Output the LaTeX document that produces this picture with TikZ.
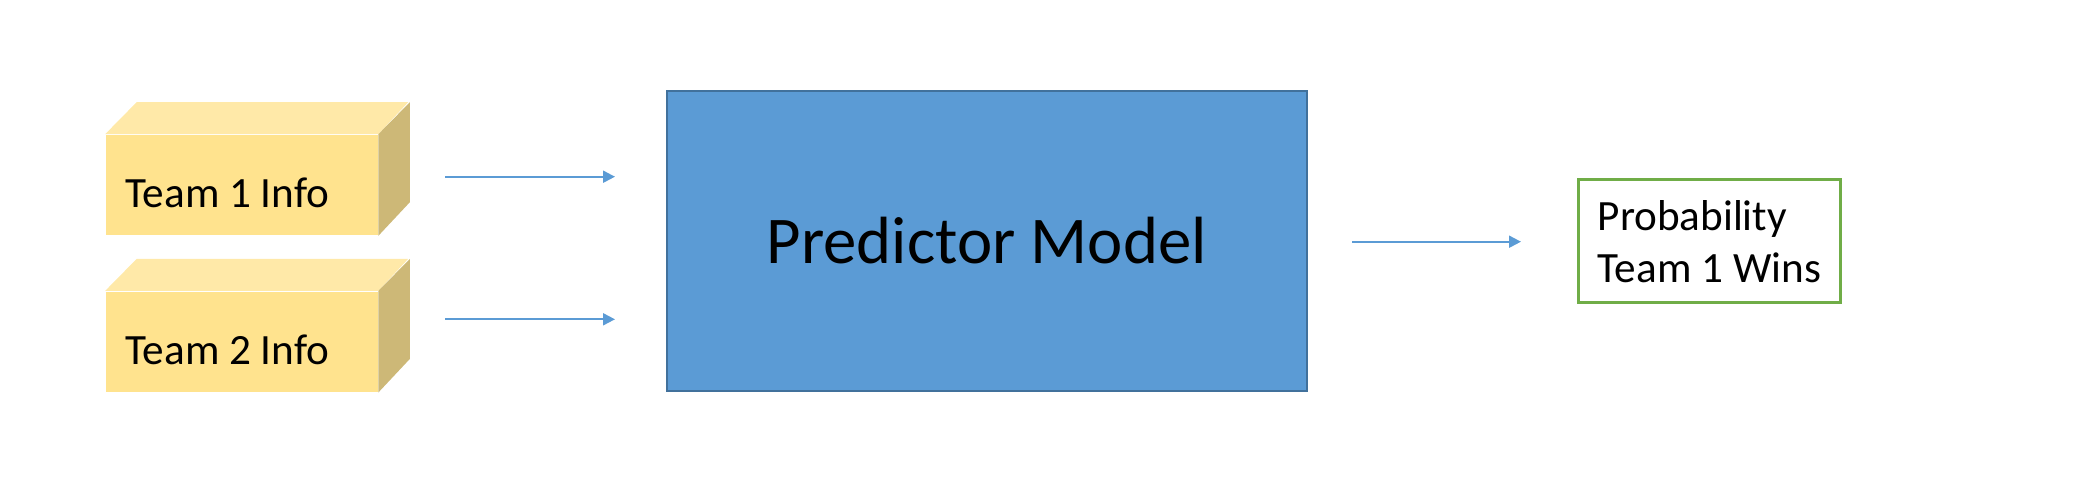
\documentclass[tikz,border=0pt]{standalone}
\usepackage{fontspec}
\setmainfont{Carlito}
\usetikzlibrary{calc}
\usetikzlibrary{arrows.meta}
\definecolor{boxfront}{HTML}{FFE38E}
\definecolor{boxtop}{HTML}{FFE9A8}
\definecolor{boxside}{HTML}{CDB877}
\definecolor{modelblue}{HTML}{5B9BD5}
\definecolor{modeledge}{HTML}{41719C}
\definecolor{outgreen}{HTML}{70AD47}

\begin{document}
\begin{tikzpicture}[x=0.25pt, y=-0.25pt,
  front/.style={fill=boxfront, minimum width=67.9pt, minimum height=25pt, inner sep=0pt},
  infotext/.style={font=\fontsize{10.8pt}{13pt}\selectfont, inner sep=0pt},
  flow/.style={-{Triangle[length=3pt, width=3pt]}, modelblue, line width=0.5pt}]

  \useasboundingbox (0,0) rectangle (2092,495);

  % Input boxes
  \foreach \i/\y in {1/185, 2/341.7} {
    \node[front] (t\i) at (241.75,\y) {};
    \fill[boxtop] (t\i.north west) -- ++(31.5,-32) -- ++(271.5,0) -- (t\i.north east) -- cycle;
    \fill[boxside] (t\i.north east) -- ++(31.5,-32) -- ++(0,100) -- (t\i.south east) -- cycle;
    \node[infotext, anchor=base west] (t\i txt) at ($(t\i.south west)+(19.7,-28)$) {Team \i{} Info};
  }

  % Model
  \node[fill=modelblue, draw=modeledge, line width=0.5pt, minimum width=160.1pt, minimum height=74.9pt,
        font=\fontsize{16.7pt}{20pt}\selectfont] (model) at (986.7,240.8) {Predictor Model};

  % Output
  \node[draw=outgreen, line width=0.75pt, minimum width=65.35pt, minimum height=30.7pt, inner sep=0pt,
        align=left, font=\fontsize{10.8pt}{13pt}\selectfont] (out) at (1709.3,241.3) {Probability\\Team 1 Wins};

  % Arrows
  \coordinate (a1) at (445,176.7);
  \coordinate (b1) at (615,176.7);
  \coordinate (a2) at (445,319.3);
  \coordinate (b2) at (615,319.3);
  \coordinate (a3) at (1352,241.7);
  \coordinate (b3) at (1521,241.7);
  \draw[flow] (a1) -- (b1);
  \draw[flow] (a2) -- (b2);
  \draw[flow] (a3) -- (b3);

\end{tikzpicture}
\end{document}
